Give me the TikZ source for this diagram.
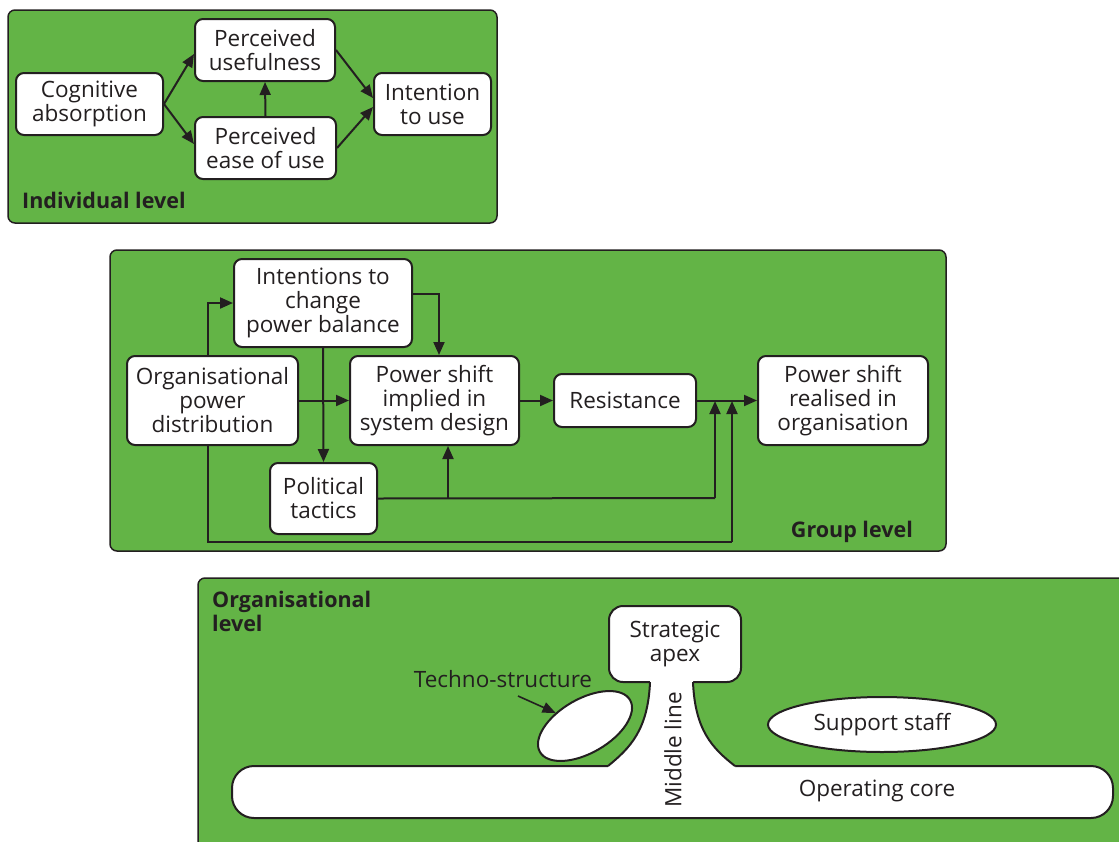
\documentclass[tikz,border=0pt]{standalone}
\usepackage{fontspec}
\setmainfont{Open Sans}
\usetikzlibrary{arrows.meta,calc,shapes.geometric}
\definecolor{panel}{RGB}{99,180,70}
\definecolor{ink}{RGB}{35,31,32}

\begin{document}
\begin{tikzpicture}[x=1pt,y=-1pt,
  every node/.style={text=ink, font=\fontsize{22.5}{24}\selectfont},
  panelbox/.style={draw=ink, fill=panel, line width=1.5pt, rounded corners=7pt},
  box/.style={draw=ink, fill=white, line width=2pt, rounded corners=8pt, align=center, inner sep=0pt},
  oval/.style={ellipse, draw=ink, fill=white, line width=2pt, inner sep=0pt},
  arr/.style={draw=ink, line width=2pt, -{Triangle[length=13pt,width=11pt]}},
  link/.style={draw=ink, line width=2pt},
  lbl/.style={font=\fontsize{21.5}{24}\selectfont\bfseries, align=left, inner sep=0pt}]

\useasboundingbox (0,0) rectangle (1119,841);
\clip (0,0) rectangle (1119,841);
\fill[white] (0,0) rectangle (1119,841);

% ---------- panels ----------
\draw[panelbox] (8,10) rectangle (497,223);
\draw[panelbox] (110,250) rectangle (946,551);
\draw[panelbox] (198,578) rectangle (1150,880);

% ---------- individual level ----------
\node[box, minimum width=147, minimum height=62] (cog) at (89.5,104) {Cognitive\\absorption};
\node[box, minimum width=140, minimum height=62] (pu) at (265,50) {Perceived\\usefulness};
\node[box, minimum width=141, minimum height=62] (pe) at (265.5,148) {Perceived\\ease of use};
\node[box, minimum width=117, minimum height=62] (itu) at (432.5,104) {Intention\\to use};
\node[lbl, anchor=base west] (indl) at (22,208) {Individual level};

\draw[arr] (cog.east) -- ([yshift=-4pt]pu.west);
\draw[arr] (cog.east) -- ([yshift=4pt]pe.west);
\draw[arr] (pe.north) -- (pu.south);
\draw[arr] (pu.east) -- ([yshift=6pt]itu.west);
\draw[arr] (pe.east) -- ([yshift=-3pt]itu.west);

% ---------- group level ----------
\node[box, minimum width=178, minimum height=88] (ich) at (323,303) {Intentions to\\change\\power balance};
\node[box, minimum width=171, minimum height=89] (org) at (212.5,400.5) {Organisational\\power\\distribution};
\node[box, minimum width=169, minimum height=89] (pid) at (434.5,400.5) {Power shift\\implied in\\system design};
\node[box, minimum width=142, minimum height=53] (res) at (625,400.5) {Resistance};
\node[box, minimum width=170, minimum height=89] (psr) at (843,400.5) {Power shift\\realised in\\organisation};
\node[box, minimum width=107, minimum height=71] (pt) at (323.5,498.5) {Political\\tactics};
\node[lbl, anchor=base east] (grpl) at (913,537) {Group level};

\coordinate (j1) at (715,498);
\coordinate (j2) at (732,542);
\coordinate (m1) at (715,401);
\coordinate (m2) at (732,401);
\coordinate (b1) at (448,498);

\draw[arr] ([xshift=-4.5pt]org.north) |- (ich.west);
\draw[arr] ([yshift=9pt]ich.east) -| ([xshift=4.5pt]pid.north);
\draw[arr] (ich.south) -- (pt.north);
\draw[arr] (org.east) -- (pid.west);
\draw[arr] (pid.east) -- (res.west);
\draw[arr] (res.east) -- (psr.west);
\draw[link] (pt.east) -- (j1);
\draw[arr] (j1) -- (m1);
\draw[arr] (b1) -- (b1 |- pid.south);
\draw[link] ([xshift=-4.5pt]org.south) |- (j2);
\draw[arr] (j2) -- (m2);

% ---------- organisational level ----------
\node[lbl, anchor=north west] (orgl) at (212,591) {Organisational\\level};

\node[box, minimum width=881, minimum height=52, rounded corners=22pt] (core) at (672.5,792) {};
\node[box, minimum width=132, minimum height=76, rounded corners=14pt] (apex) at (675,644) {Strategic\\apex};
% middle line: white neck joining the apex to the operating core
\fill[white] (650,682) .. controls (648,730) and (630,748) .. (608,766)
  -- (608,769) -- (735,769) -- (735,766)
  .. controls (712,748) and (695,730) .. (693,682) -- (693,679) -- (650,679) -- cycle;
\draw[link] (650,682) .. controls (648,730) and (630,748) .. (608,766);
\draw[link] (693,682) .. controls (695,730) and (712,748) .. (735,766);
\node[rotate=90] (midl) at (673,750) {Middle line};
\node (coretxt) at (877,791) {Operating core};

\node[oval, minimum width=104, minimum height=54, rotate=30] (tech) at (585,726) {};
\node (techl) at (503,679) {Techno-structure};
\coordinate (ta) at (518,696);
\draw[arr, line width=1.6pt] (ta) -- (tech);

\node[oval, minimum width=228, minimum height=55] (staff) at (882,724.5) {Support staff};

\end{tikzpicture}
\end{document}
